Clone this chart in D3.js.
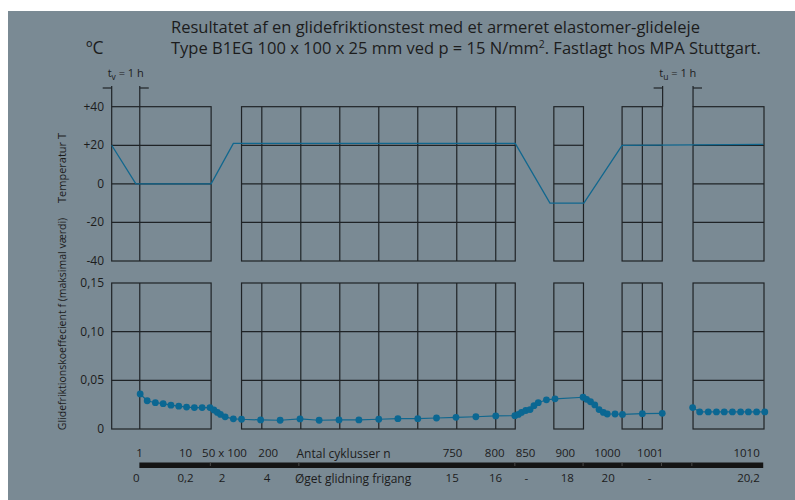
<!DOCTYPE html>
<html>
<head>
<meta charset="utf-8">
<script src="https://d3js.org/d3.v7.min.js"></script>
<style>
  body { margin: 0; background: #fff; }
  svg text { font-family: "Open Sans", "Noto Sans", sans-serif; fill: #1c1c1c; }
  .grid line, .grid rect { stroke: #1f2326; stroke-width: 1.2; fill: none; }
  .lbl text { font-size: 11.5px; }
</style>
</head>
<body>
<svg id="chart" width="795" height="500"></svg>
<script>
// x positions are in "grid columns" along the test sequence (one column = 100 cycles in the big panel)
const panelStart = [0, 3.33, 11.34, 13.09, 14.91];
const panelEnd = [2.55, 10.35, 12.10, 14.12, 16.73];
const panelCols = [[0.72], [3.85, 4.85, 5.85, 6.85, 7.85, 8.85, 9.85], [], [13.61], []];

// temperature program (°C)
const tempPos = [0, 0.62, 2.55, 3.12, 10.35, 11.24, 12.11, 13.09, 16.71];
const tempVal = [20, 0, 0, 21, 21, -10, -10, 20, 20.5];

// friction coefficient, first run
const fricPosA = [0.73, 0.91, 1.12, 1.32, 1.52, 1.72, 1.92, 2.12, 2.32, 2.52, 2.62, 2.71, 2.79, 2.91, 3.12,
  3.33, 3.82, 4.32, 4.83, 5.32, 5.83, 6.34, 6.85, 7.34, 7.85, 8.33, 8.83, 9.34, 9.85, 10.34,
  10.43, 10.51, 10.62, 10.73, 10.83, 10.94, 11.15, 11.37, 12.09, 12.18, 12.28, 12.39, 12.50, 12.61, 12.71,
  12.91, 13.10, 13.61, 14.12];
const fricValA = [0.036, 0.029, 0.027, 0.026, 0.0245, 0.0235, 0.0225, 0.022, 0.022, 0.022, 0.0195, 0.017, 0.015, 0.0125, 0.0105,
  0.010, 0.0093, 0.009, 0.0103, 0.009, 0.0093, 0.0093, 0.010, 0.0106, 0.0106, 0.0113, 0.012, 0.0126, 0.0134, 0.0137,
  0.015, 0.017, 0.019, 0.020, 0.024, 0.027, 0.030, 0.031, 0.0326, 0.0305, 0.028, 0.0247, 0.020, 0.017, 0.0154,
  0.0154, 0.015, 0.0157, 0.0161];
// after the 1 h pause
const fricPosB = [14.90, 15.08, 15.30, 15.51, 15.71, 15.92, 16.13, 16.33, 16.54, 16.75];
const fricValB = [0.022, 0.0175, 0.0175, 0.0175, 0.0175, 0.0175, 0.0175, 0.0175, 0.0175, 0.0175];

const tempTicks = [-40, -20, 0, 20, 40];
const tempTickLabels = ["-40", "-20", "0", "+20", "+40"];
const fricTicks = [0, 0.05, 0.10, 0.15];
const fricTickLabels = ["0", "0,05", "0,10", "0,15"];

const cyclePos = [0.70, 1.88, 2.88, 4.0, 8.73, 9.81, 10.60, 11.62, 12.70, 13.80, 16.27];
const cycleLabels = ["1", "10", "50 x 100", "200", "750", "800", "850", "900", "1000", "1001", "1010"];
const slipPos = [0.62, 1.88, 2.82, 3.97, 8.72, 9.83, 10.62, 11.67, 12.72, 13.78, 16.32];
const slipLabels = ["0", "0,2", "2", "4", "15", "16", "-", "18", "20", "-", "20,2"];
const barMarks = [2.53, 4.80, 10.34, 12.09, 13.09, 14.10, 14.88];

const svg = d3.select("#chart");
const blue = "#0b6792";

svg.append("rect").attr("x", 8).attr("y", 11).attr("width", 787).attr("height", 489).attr("fill", "#7a8a94");

const x = d3.scaleLinear().domain([0, 16.73]).range([111.7, 764]);
const yT = d3.scaleLinear().domain([-40, 40]).range([261, 106.7]);
const yF = d3.scaleLinear().domain([0, 0.15]).range([429, 283]);

// titles
const title = svg.append("g").style("font-size", "16.5px");
title.append("text").attr("x", 171).attr("y", 33).text("Resultatet af en glidefriktionstest med et armeret elastomer-glideleje");
const t2 = title.append("text").attr("x", 171).attr("y", 54);
t2.append("tspan").text("Type B1EG 100 x 100 x 25 mm ved p = 15 N/mm");
t2.append("tspan").attr("dy", -6).style("font-size", "10.5px").text("2");
t2.append("tspan").attr("dy", 6).text(". Fastlagt hos MPA Stuttgart.");
svg.append("text").attr("x", 86).attr("y", 54).style("font-size", "17.5px").text("ºC");

// draw panel grids
function drawGrid(g, y, ticks) {
  const top = y(ticks[ticks.length - 1]), bottom = y(ticks[0]);
  panelStart.forEach((s, i) => {
    const p = g.append("g").attr("class", "grid");
    p.append("rect")
      .attr("x", x(s)).attr("y", top)
      .attr("width", x(panelEnd[i]) - x(s)).attr("height", bottom - top);
    p.selectAll("line.h").data(ticks.slice(1, -1)).join("line")
      .attr("x1", x(s)).attr("x2", x(panelEnd[i]))
      .attr("y1", d => y(d)).attr("y2", d => y(d));
    p.selectAll("line.v").data(panelCols[i]).join("line")
      .attr("x1", d => x(d)).attr("x2", d => x(d))
      .attr("y1", top).attr("y2", bottom);
  });
}
const gT = svg.append("g");
const gF = svg.append("g");
drawGrid(gT, yT, tempTicks);
drawGrid(gF, yF, fricTicks);

// y tick labels
function yLabels(y, ticks, labels) {
  svg.append("g").style("font-size", "12px").attr("text-anchor", "end")
    .selectAll("text").data(ticks).join("text")
    .attr("x", 104).attr("y", d => y(d) + 4)
    .text((d, i) => labels[i]);
}
yLabels(yT, tempTicks, tempTickLabels);
yLabels(yF, fricTicks, fricTickLabels);

svg.append("text").attr("transform", "translate(66,168) rotate(-90)")
  .attr("text-anchor", "middle").style("font-size", "11px").text("Temperatur T");
svg.append("text").attr("transform", "translate(66,324) rotate(-90)")
  .attr("text-anchor", "middle").style("font-size", "10.5px").text("Glidefriktionskoeffecient  f (maksimal værdi)");

// 1 h pause markers
const pauses = [[0, 0.72, "v"], [14.13, 14.91, "u"]];
pauses.forEach(p => {
  const g = svg.append("g").attr("class", "grid");
  const a = x(p[0]), b = x(p[1]);
  g.append("line").attr("x1", a).attr("x2", a).attr("y1", 86).attr("y2", yT(40));
  g.append("line").attr("x1", b).attr("x2", b).attr("y1", 86).attr("y2", yT(40));
  g.append("line").attr("x1", a - 9).attr("x2", a).attr("y1", 88).attr("y2", 88);
  g.append("line").attr("x1", b).attr("x2", b + 9).attr("y1", 88).attr("y2", 88);
  const t = svg.append("text").attr("x", (a + b) / 2).attr("y", 77)
    .attr("text-anchor", "middle").style("font-size", "11px");
  t.append("tspan").text("t");
  t.append("tspan").attr("dy", 3).style("font-size", "8.5px").text(p[2]);
  t.append("tspan").attr("dy", -3).text(" = 1 h");
});

// temperature line
const tempData = tempPos.map((d, i) => [d, tempVal[i]]);
svg.append("path").datum(tempData)
  .attr("fill", "none").attr("stroke", "#11678e").attr("stroke-width", 1.3)
  .attr("d", d3.line().x(d => x(d[0])).y(d => yT(d[1])));

// friction series
[[fricPosA, fricValA], [fricPosB, fricValB]].forEach(([ps, vs]) => {
  const data = ps.map((d, i) => [d, vs[i]]);
  svg.append("path").datum(data)
    .attr("fill", "none").attr("stroke", "#11678e").attr("stroke-width", 1.2)
    .attr("d", d3.line().x(d => x(d[0])).y(d => yF(d[1])));
  svg.append("g").selectAll("circle").data(data).join("circle")
    .attr("cx", d => x(d[0])).attr("cy", d => yF(d[1])).attr("r", 3.4)
    .attr("fill", blue);
});

// bottom scale bar with cycle / slip labels
svg.append("rect").attr("x", x(0.71)).attr("y", 462.5)
  .attr("width", x(16.71) - x(0.71)).attr("height", 5.5).attr("fill", "#141414");
svg.append("g").selectAll("line").data(barMarks).join("line")
  .attr("x1", d => x(d)).attr("x2", d => x(d)).attr("y1", 462).attr("y2", 466)
  .attr("stroke", "#4a4a4a").attr("stroke-width", 1);

const axTop = svg.append("g").attr("class", "lbl").attr("transform", "translate(0,462)")
  .call(d3.axisTop(x).tickValues(cyclePos).tickSize(0).tickPadding(5).tickFormat((d, i) => cycleLabels[i]));
const axBot = svg.append("g").attr("class", "lbl").attr("transform", "translate(0,468)")
  .call(d3.axisBottom(x).tickValues(slipPos).tickSize(0).tickPadding(6).tickFormat((d, i) => slipLabels[i]));
[axTop, axBot].forEach(a => {
  a.select(".domain").remove();
  a.selectAll("text").attr("fill", "#1c1c1c").style("font-family", null);
});

svg.append("text").attr("x", x(4.74)).attr("y", 458).style("font-size", "12px").text("Antal cyklusser n");
svg.append("text").attr("x", x(4.70)).attr("y", 483).style("font-size", "12px").text("Øget glidning frigang");
</script>
</body>
</html>
